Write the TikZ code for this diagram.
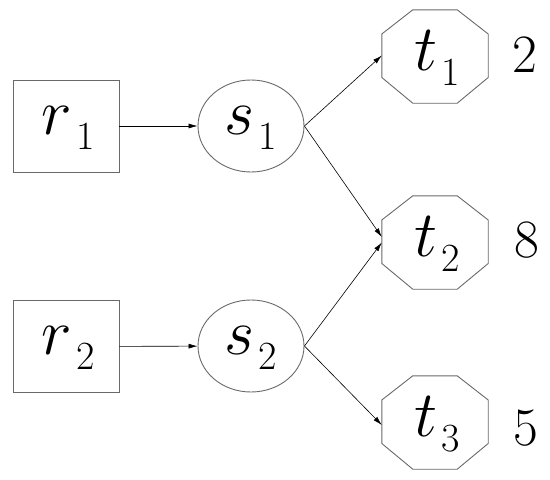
\RequirePackage{fix-cm}
\documentclass[tikz,border=0pt]{standalone}
\usetikzlibrary{arrows.meta,shapes.geometric}
\definecolor{edgegray}{RGB}{105,105,105}
\newcommand{\lab}[2]{{\fontsize{65}{65}\selectfont$#1$}\kern4pt\raisebox{-15pt}{\fontsize{40}{40}\selectfont #2}}
\tikzset{
  box/.style={draw=edgegray,line width=0.9pt,rectangle,minimum width=106pt,minimum height=92pt,inner sep=0pt},
  oval/.style={draw=edgegray,line width=0.9pt,ellipse,minimum width=106pt,minimum height=92pt,inner sep=0pt},
  oct/.style={rectangle,minimum width=106pt,minimum height=93pt,inner sep=0pt},
  octline/.style={draw=edgegray,line width=0.9pt},
  lbl/.style={inner sep=0pt},
  num/.style={inner sep=0pt,font=\fontsize{54}{54}\selectfont},
  conn/.style={draw=black,line width=0.6pt,-{Latex[length=9pt,width=5pt]}},
}
\newcommand{\octpath}[1]{%
  \draw[octline] ([yshift=22.5pt]#1.west) -- ([xshift=31pt]#1.north west) -- ([xshift=-31pt]#1.north east) -- ([yshift=22.5pt]#1.east) -- ([yshift=-21pt]#1.east) -- ([xshift=-31pt]#1.south east) -- ([xshift=31pt]#1.south west) -- ([yshift=-21pt]#1.west) -- cycle;}
\begin{document}
\begin{tikzpicture}[x=1pt,y=-1pt]
\useasboundingbox (0,0) rectangle (550,480);
\node[box] (r1) at (66,126) {};
\node[box] (r2) at (66,346.5) {};
\node[oval] (s1) at (251,126) {};
\node[oval] (s2) at (251,346) {};
\node[oct] (t1) at (435,56.5) {};
\node[oct] (t2) at (435,242.5) {};
\node[oct] (t3) at (435,422.5) {};
\node[lbl] (lr1) at (68,128) {\lab{r}{1}};
\node[lbl] (lr2) at (68,348) {\lab{r}{2}};
\node[lbl] (ls1) at (251,128) {\lab{s}{1}};
\node[lbl] (ls2) at (251,348) {\lab{s}{2}};
\node[lbl] (lt1) at (437,58) {\lab{t}{1}};
\node[lbl] (lt2) at (437,244) {\lab{t}{2}};
\node[lbl] (lt3) at (437,424) {\lab{t}{3}};
\octpath{t1}
\octpath{t2}
\octpath{t3}
\node[num] (n1) at (525,55) {2};
\node[num] (n2) at (527,240) {8};
\node[num] (n3) at (526,428) {5};
\draw[conn] (r1) -- (s1);
\draw[conn] (r2) -- (s2);
\draw[conn] (s1.east) -- ([yshift=1pt]t1.west);
\draw[conn] (s1.east) -- ([yshift=5.5pt]t2.west);
\draw[conn] (s2.east) -- (t2.west);
\draw[conn] (s2.east) -- ([yshift=-2.5pt]t3.west);
\end{tikzpicture}
\end{document}
